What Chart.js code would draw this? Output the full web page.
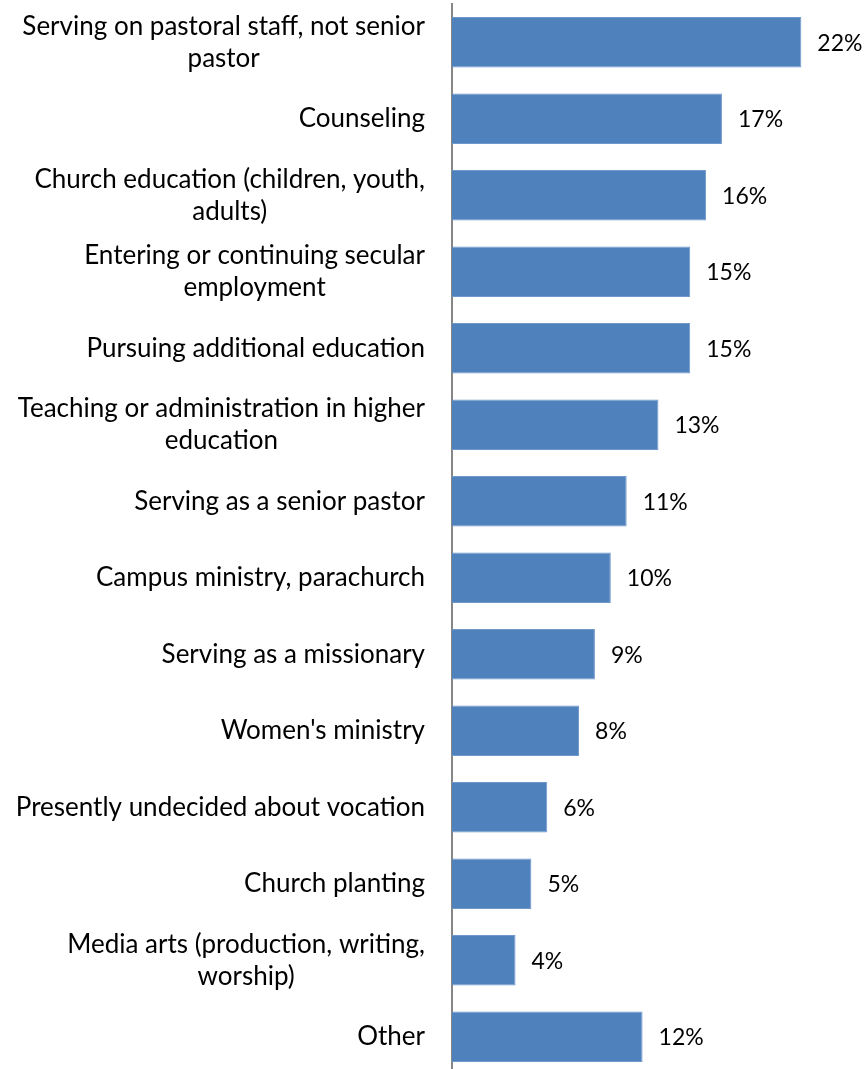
<!DOCTYPE html>
<html>
<head>
<meta charset="utf-8">
<script src="https://cdn.jsdelivr.net/npm/chart.js@4"></script>
<style>
  html, body { margin: 0; padding: 0; background: #fff; overflow: hidden; }
  canvas { display: block; }
</style>
</head>
<body>
<canvas id="chart" width="865" height="1076"></canvas>
<script>
// categories, one array of lines per label
const categories = [
  ["Serving on pastoral staff, not senior", "pastor"],
  ["Counseling"],
  ["Church education (children, youth,", "adults)"],
  ["Entering or continuing secular", "employment"],
  ["Pursuing additional education"],
  ["Teaching or administration in higher", "education"],
  ["Serving as a senior pastor"],
  ["Campus ministry, parachurch"],
  ["Serving as a missionary"],
  ["Women's ministry"],
  ["Presently undecided about vocation"],
  ["Church planting"],
  ["Media arts (production, writing,", "worship)"],
  ["Other"]
];
const percents = [22, 17, 16, 15, 15, 13, 11, 10, 9, 8, 6, 5, 4, 12];

const LABEL_FONT = "26px Lato";
const VALUE_FONT = "23px Lato";

// value labels to the right of each bar
const valueLabels = {
  id: "valueLabels",
  afterDatasetsDraw(chart) {
    const ctx = chart.ctx;
    const meta = chart.getDatasetMeta(0);
    ctx.save();
    ctx.font = VALUE_FONT;
    ctx.fillStyle = "#000";
    ctx.textAlign = "left";
    ctx.textBaseline = "middle";
    meta.data.forEach((bar, i) => {
      ctx.fillText(percents[i] + "%", bar.x + 16, bar.y + 1);
    });
    ctx.restore();
  }
};

// category labels: right aligned block, lines centred inside the block
const categoryLabels = {
  id: "categoryLabels",
  afterDraw(chart) {
    const ctx = chart.ctx;
    const yScale = chart.scales.y;
    const right = yScale.right - 27;
    const lineH = 32;
    ctx.save();
    ctx.font = LABEL_FONT;
    ctx.fillStyle = "#000";
    ctx.textAlign = "center";
    ctx.textBaseline = "middle";
    categories.forEach((lines, i) => {
      const y = yScale.getPixelForTick(i);
      const w = Math.max(...lines.map(l => ctx.measureText(l).width));
      const cx = right - w / 2;
      const top = y - (lines.length - 1) * lineH / 2;
      lines.forEach((l, j) => ctx.fillText(l, cx, top + j * lineH));
    });
    ctx.restore();
  }
};

new Chart(document.getElementById("chart"), {
  type: "bar",
  data: {
    labels: categories,
    datasets: [{
      data: percents,
      backgroundColor: "#4F81BD",
      borderColor: "#6F98CB",
      borderWidth: 1,
      barPercentage: 0.66,
      categoryPercentage: 1
    }]
  },
  options: {
    indexAxis: "y",
    responsive: false,
    animation: false,
    layout: { padding: { top: 4, bottom: 1, right: 16, left: 0 } },
    plugins: {
      legend: { display: false },
      tooltip: { enabled: false }
    },
    scales: {
      x: { display: false, min: 0, max: 25 },
      y: {
        grid: { display: false },
        border: { display: true, color: "#868686", width: 2 },
        ticks: { display: false },
        afterFit(scale) { scale.width = 452; }
      }
    }
  },
  plugins: [valueLabels, categoryLabels]
});
</script>
</body>
</html>
